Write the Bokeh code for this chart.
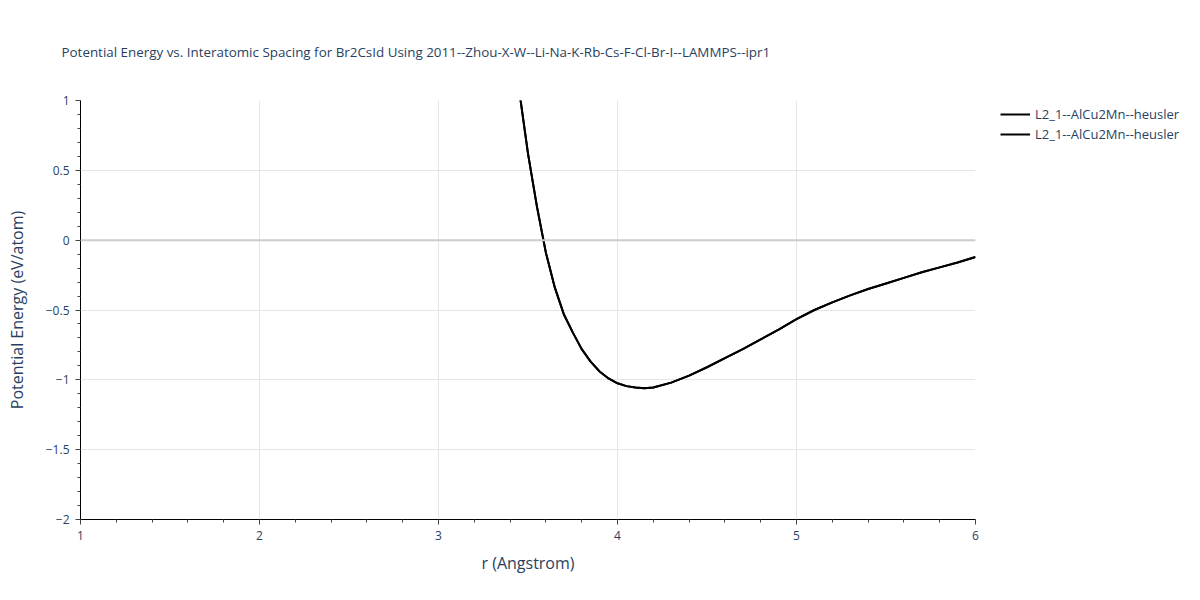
from bokeh.plotting import figure
from bokeh.models import (Range1d, FixedTicker, CustomJSTickFormatter, Legend,
                          LegendItem, Span)
from bokeh.embed import file_html
from bokeh.resources import INLINE

# ---- data ----
r_values = [3.45, 3.50, 3.55, 3.60, 3.65, 3.70, 3.75, 3.80, 3.85, 3.90, 3.95,
            4.00, 4.05, 4.10, 4.15, 4.20, 4.30, 4.40, 4.50, 4.60, 4.70, 4.80,
            4.90, 5.00, 5.10, 5.20, 5.30, 5.40, 5.50, 5.60, 5.70, 5.80, 5.90,
            6.00]
energy_values = [1.08, 0.62, 0.24, -0.09, -0.34, -0.53, -0.66, -0.78, -0.87,
                 -0.94, -0.99, -1.025, -1.045, -1.055, -1.06, -1.055, -1.02,
                 -0.97, -0.91, -0.845, -0.78, -0.71, -0.64, -0.565, -0.50,
                 -0.445, -0.395, -0.35, -0.31, -0.27, -0.23, -0.195, -0.16,
                 -0.12]
series_names = ["L2_1--AlCu2Mn--heusler", "L2_1--AlCu2Mn--heusler"]
x_ticks = [1, 2, 3, 4, 5, 6]
y_ticks = [-2, -1.5, -1, -0.5, 0, 0.5, 1]
title_text = ("Potential Energy vs. Interatomic Spacing for Br2CsId Using "
              "2011--Zhou-X-W--Li-Na-K-Rb-Cs-F-Cl-Br-I--LAMMPS--ipr1")
x_label = "r (Angstrom)"
y_label = "Potential Energy (eV/atom)"

FONT = "Open Sans"
TEXT_COLOR = "#2a3f5f"

p = figure(frame_width=895, frame_height=419,
           x_range=Range1d(1, 6), y_range=Range1d(-2, 1),
           output_backend="svg", toolbar_location=None,
           min_border_left=80, min_border_right=225, min_border_top=100,
           min_border_bottom=81)
p.outline_line_color = None
p.background_fill_color = "white"
p.border_fill_color = "white"

# title
p.title.text = title_text
p.title.text_font = FONT
p.title.text_font_size = "13.4px"
p.title.text_font_style = "normal"
p.title.text_color = TEXT_COLOR
p.title.align = "left"
p.title.offset = -19
p.title.standoff = 79

# axes
minor_x = [1 + 0.2 * i for i in range(26)]
minor_y = [-2 + 0.1 * i for i in range(31)]
p.xaxis.ticker = FixedTicker(ticks=x_ticks, minor_ticks=minor_x)
p.yaxis.ticker = FixedTicker(ticks=y_ticks, minor_ticks=minor_y)
js = "return tick < 0 ? '\\u2212' + Math.abs(tick) : tick.toString();"
p.xaxis.formatter = CustomJSTickFormatter(code=js)
p.yaxis.formatter = CustomJSTickFormatter(code=js)

for ax in (p.xaxis[0], p.yaxis[0]):
    ax.axis_line_color = "black"
    ax.axis_line_width = 1
    ax.major_tick_line_color = "#444444"
    ax.minor_tick_line_color = "#444444"
    ax.major_tick_out = 5
    ax.major_tick_in = 0
    ax.minor_tick_out = 3
    ax.minor_tick_in = 0
    ax.major_label_text_font = FONT
    ax.major_label_text_font_size = "12px"
    ax.major_label_text_color = TEXT_COLOR
    ax.axis_label_text_font = FONT
    ax.axis_label_text_font_size = "16px"
    ax.axis_label_text_font_style = "normal"
    ax.axis_label_text_color = TEXT_COLOR

p.xaxis.axis_label = x_label
p.yaxis.axis_label = y_label
p.xaxis.major_label_standoff = 6
p.xaxis.axis_label_standoff = 9
p.yaxis.major_label_standoff = 6
p.yaxis.axis_label_standoff = 15

# grid
p.xgrid.grid_line_color = "#e5e5e5"
p.ygrid.grid_line_color = "#e5e5e5"
p.xgrid.grid_line_width = 1
p.ygrid.grid_line_width = 1
zero = Span(location=0, dimension="width", line_color="#cccccc", line_width=2)
p.add_layout(zero)

# lines
renderers = []
for name in series_names:
    r = p.line(r_values, energy_values, line_color="black", line_width=2)
    renderers.append(r)

legend = Legend(items=[LegendItem(label=n, renderers=[rr]) for n, rr in zip(series_names, renderers)],
                location=(25, 376), orientation="vertical",
                margin=0, padding=0, spacing=2, glyph_width=30, glyph_height=18,
                label_height=18, label_standoff=5,
                label_text_font=FONT, label_text_font_size="13px",
                label_text_color=TEXT_COLOR,
                border_line_color=None, background_fill_alpha=0)
p.add_layout(legend, "right")

open("out.html", "w").write(file_html(p, INLINE))
